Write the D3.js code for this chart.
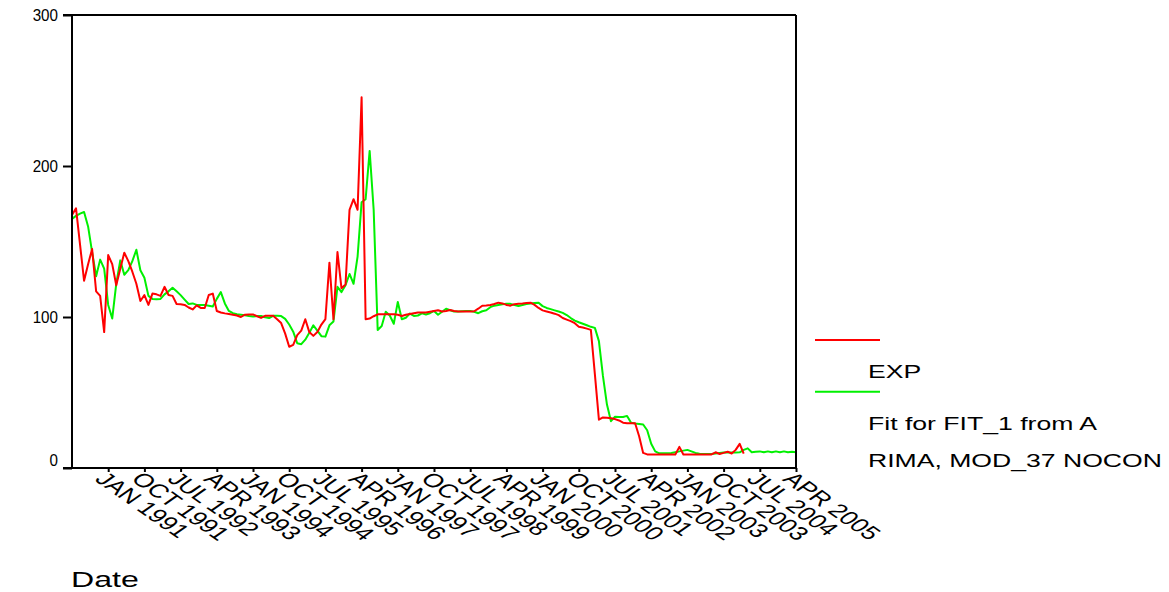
<!DOCTYPE html>
<html><head><meta charset="utf-8">
<script src="https://cdn.jsdelivr.net/npm/d3@7"></script>
<style>body{margin:0;background:#fff}svg{display:block}text{font-family:Arial,"Liberation Sans",sans-serif;fill:#000}</style>
</head><body><svg id="c" width="1169" height="592"></svg>
<script>
// Monthly series, first case APR 1990 (index 0)
const expValues = [167.5,172,148,124,135,145,117,114,90,141,
135,121,132,142.6,137,130,122,110.6,114.5,108,
115.5,115,114,120,114.6,114,108.6,108.5,108,106.3,
105,107.7,106,106,114.6,115.5,104,103,102.4,102,
101.5,101,100,101.5,101.7,101.7,100.5,99.4,100.8,100.8,
100.8,98.5,96,89,80.3,81.5,88,91,98.5,90,
87.5,90,95,98.6,136,98.5,143,119,121.5,171,
178,171,245.5,98.5,99,100.5,101.8,101.8,101.8,101.8,
101.8,101.5,100.7,101.5,102,102.5,103,103,103,103.5,
104,104.5,103.6,104,104.6,104,103.6,103.6,103.6,103.6,
103.8,105.5,107.5,107.6,108,108.6,109.5,109,108,107.5,
108.5,108.8,109,109.3,109.5,108,106,104.4,103.7,103,
102.2,101.2,99.3,98.3,97.3,95.9,93.6,93,92.3,91.5,
62,32,33.5,33.3,33,32.4,31.5,30,29.7,29.6,
29.6,21,10,9,9,9,9,9,9,9,
9,14,9,9,9,9,9,9,9,9,
10.4,9.3,10,10.8,9.6,12,16,9.5];
const fitValues = [165,167,168.5,169.5,160,143,127,138,132,108,
99,122,137.5,128,131,137,144.5,131,126,114,
112,111.8,112,115,117,119.4,117,114.5,111.5,108.6,
109,108,108,108,107.5,107,112,116.5,109,104,
102.5,101.8,101.5,101.2,100.6,100.3,100.6,100.7,99.8,99.3,
100.8,100.8,100.6,98.8,95,90.3,82.6,82,85,89.5,
94.5,91,87.3,87,94.5,97,120,116.5,121,128.5,
122,140,176,178,210,171,91.4,94,103.5,101,
95.5,110,98.5,99.5,102.3,100.7,101,102.4,101.7,102.5,
104,101.5,103.5,105.5,104.5,103.6,103.7,103.8,103.9,104,
103.5,102.5,103.8,104.5,106.5,107.5,108,108.4,108.8,108.7,
108,107.3,108,108.6,108.9,109.2,109.5,107.2,106,105.2,
104.4,103.6,102.7,101.3,99.3,97.6,96.5,95.5,94.5,93.5,
92.8,84,61,42,31,34,33.7,33.8,34.5,30,
29.5,29.2,28.8,25,16,11,9.7,9.7,9.8,10,
10.5,11,11.5,12,11,10,9.4,9.3,9.3,9.3,
9.6,10,10.2,10.2,10.3,10.3,10.4,12,13,10.4,
10.8,11,10.4,11,10.4,11,10.5,11,10.4,10.8,10.5];
const tickIndex = [9,18,27,36,45,54,63,72,81,90,99,108,117,126,135,144,153,162,171,180];
const tickLabels = ["JAN 1991","OCT 1991","JUL 1992","APR 1993","JAN 1994","OCT 1994","JUL 1995","APR 1996","JAN 1997","OCT 1997","JUL 1998","APR 1999","JAN 2000","OCT 2000","JUL 2001","APR 2002","JAN 2003","OCT 2003","JUL 2004","APR 2005"];
const yTicks = [0,100,200,300];
const legendLabels = ["EXP","Fit for FIT_1 from A","RIMA, MOD_37 NOCON"];
const seriesColors = ["#ff0000","#00f000"];

const SX = 1.43;
const svg = d3.select("#c");
const L = 72, R = 796, T = 15, B = 468;
const x = d3.scaleLinear().domain([0,180]).range([L,R]);
const y = d3.scaleLinear().domain([0,300]).range([B,T]);

const line = d3.line().x((d,i)=>x(i)).y(d=>y(d));
svg.append("path").datum(fitValues).attr("d",line).attr("fill","none")
  .attr("stroke",seriesColors[1]).attr("stroke-width",2).attr("stroke-linejoin","round");
svg.append("path").datum(expValues).attr("d",line).attr("fill","none")
  .attr("stroke",seriesColors[0]).attr("stroke-width",2).attr("stroke-linejoin","round");

// frame
svg.append("line").attr("x1",63).attr("x2",R).attr("y1",T).attr("y2",T).attr("stroke","#000").attr("stroke-width",2);
svg.append("line").attr("x1",R).attr("x2",R).attr("y1",T).attr("y2",B).attr("stroke","#000").attr("stroke-width",2);

// y axis
const yAxis = svg.append("g").attr("transform",`translate(${L},0)`)
  .call(d3.axisLeft(y).tickValues(yTicks).tickSize(9).tickFormat(""));
yAxis.selectAll("path,line").attr("stroke","#000").attr("stroke-width",2);
yAxis.select(".domain").attr("d",`M-9,${B}H0V${T}`);
svg.selectAll(".ylab").data(yTicks).enter().append("text")
  .attr("transform",d=>`translate(58,${d===0?466:y(d)+6}) scale(0.95,1)`)
  .attr("text-anchor","end").attr("font-size",16).text(d=>d);

// x axis
const xAxis = svg.append("g").attr("transform",`translate(0,${B})`)
  .call(d3.axisBottom(x).tickValues(tickIndex).tickSize(4).tickFormat(""));
xAxis.selectAll("path,line").attr("stroke","#000").attr("stroke-width",2);
xAxis.select(".domain").attr("d",`M63,0H${R}`);
svg.selectAll(".xlab").data(tickIndex).enter().append("text")
  .attr("transform",d=>`translate(${x(d)},470) scale(${SX},1) rotate(45)`)
  .attr("dy","0.75em").attr("font-size",19).text((d,i)=>tickLabels[i]);

// axis title
svg.append("text").attr("transform",`translate(71,587) scale(1.46,1)`).attr("font-size",22).text("Date");

// legend
svg.append("line").attr("x1",815).attr("x2",880).attr("y1",340).attr("y2",340).attr("stroke",seriesColors[0]).attr("stroke-width",2);
svg.append("line").attr("x1",815).attr("x2",880).attr("y1",391.7).attr("y2",391.7).attr("stroke",seriesColors[1]).attr("stroke-width",2);
const legY = [378.3, 430, 466.7];
legendLabels.forEach((t,i)=>{
  svg.append("text").attr("transform",`translate(868,${legY[i]}) scale(${SX},1)`).attr("font-size",18.6).text(t);
});
</script></body></html>
